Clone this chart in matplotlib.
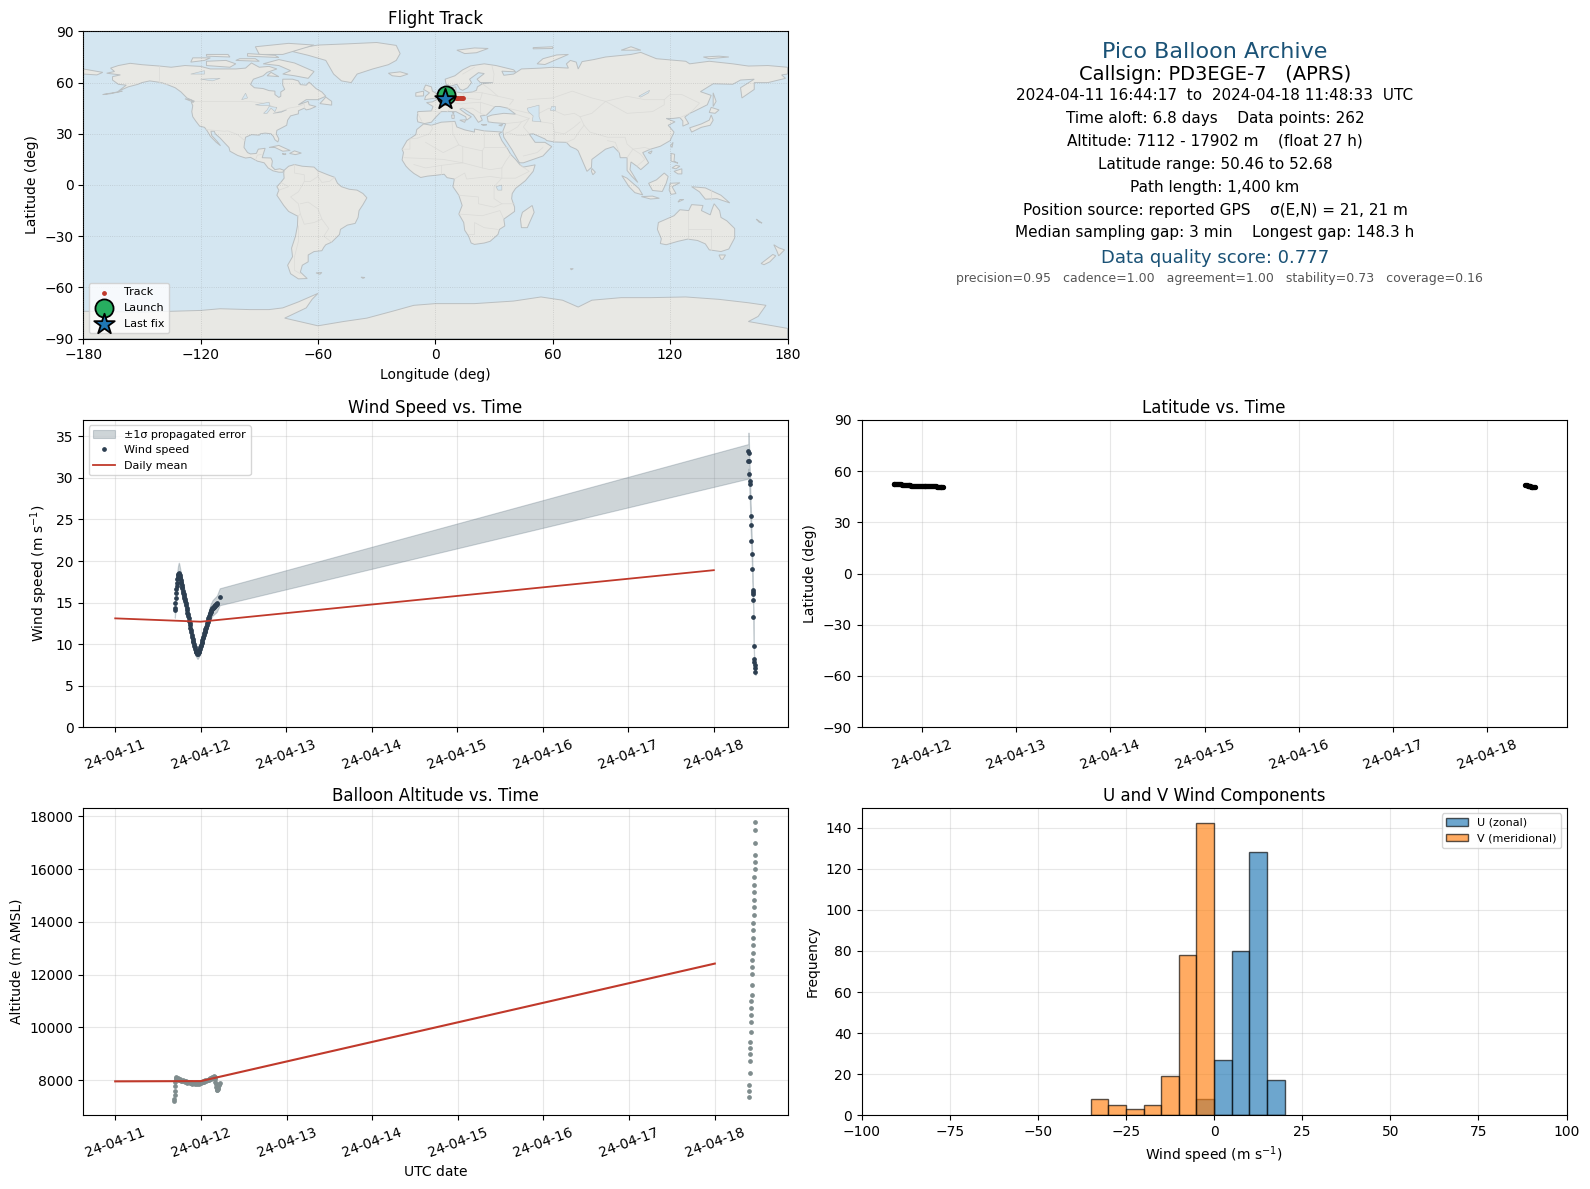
import numpy as np
import matplotlib
matplotlib.use("Agg")
import matplotlib.pyplot as plt
import matplotlib.dates as mdates
from matplotlib.patches import Polygon

W, H = 1590, 1189

# ------------------------------------------------------------------ data
BASE_DAY = mdates.date2num(np.datetime64("2024-04-11T00:00:00"))

wind_days_a = [.697,.700,.704,.708,.712,.716,.720,.724,.728,.732,.736,.740,.744,.748,.752,.756,.760,.764,.768,.772,.776,.780,.785,.790,.795,.800,.805,.810,.815,.820,.825,.830,.835,.840,.845,.850,.855,.860,.865,.870,.875,.880,.885,.890,.895,.900,.905,.910,.915,.920,.925,.930,.935,.940,.945,.950,.955,.960,.965,.970,.975,.980,.985,.990,.995,1.000,1.005,1.010,1.015,1.020,1.025,1.030,1.035,1.040,1.045,1.050,1.055,1.060,1.065,1.070,1.075,1.080,1.085,1.090,1.095,1.100,1.105,1.110,1.115,1.120,1.125,1.130,1.135,1.140,1.145,1.150,1.155,1.160,1.165,1.170,1.175,1.180,1.185,1.190,1.222]
wind_speed_a = [14.1,14.4,15.0,15.6,16.1,16.6,17.0,17.4,17.8,18.1,18.3,18.5,18.6,18.5,18.3,18.1,17.9,17.7,17.5,17.3,17.1,16.9,16.7,16.4,16.2,16.0,15.8,15.6,15.4,15.2,15.0,14.7,14.4,14.1,13.8,13.6,13.4,13.1,12.8,12.5,12.3,12.0,11.7,11.4,11.1,10.9,10.6,10.4,10.2,10.0,9.8,9.6,9.4,9.2,9.1,9.0,8.9,8.8,8.8,8.9,9.0,9.1,9.3,9.4,9.6,9.8,9.9,10.1,10.3,10.5,10.7,10.9,11.1,11.3,11.4,11.6,11.8,11.9,12.1,12.3,12.5,12.7,12.9,13.1,13.2,13.4,13.6,13.7,13.9,14.0,14.1,14.2,14.3,14.4,14.4,14.5,14.5,14.6,14.6,14.7,14.7,14.8,14.8,14.9,15.7]
wind_days_b = [7.405,7.408,7.411,7.403,7.415,7.418,7.420,7.425,7.430,7.435,7.440,7.445,7.450,7.455,7.456,7.457,7.460,7.463,7.467,7.471,7.475,7.479,7.483,7.487]
wind_speed_b = [33.3,33.0,32.1,32.0,30.5,29.6,29.3,27.7,25.4,24.3,22.4,20.9,19.1,16.5,16.3,16.0,15.3,13.3,9.8,8.2,7.8,7.5,7.1,6.7]
WIND_REL_ERROR = 0.065

daily_days = [0.0, 1.0, 7.0]
daily_wind = [13.1, 12.7, 18.9]
daily_alt = [7960, 7970, 12420]

alt_days_a = [.690,.692,.695,.697,.700,.703,.706,.710,.715,.720,.730,.740,.750,.760,.770,.780,.790,.800,.810,.820,.830,.840,.850,.860,.870,.880,.890,.900,.910,.920,.930,.940,.950,.960,.970,.980,.990,1.000,1.010,1.020,1.030,1.040,1.050,1.060,1.070,1.080,1.090,1.100,1.110,1.120,1.130,1.140,1.150,1.155,1.160,1.165,1.170,1.175,1.180,1.185,1.190,1.195,1.200,1.205,1.210,1.215,1.220]
alt_m_a = [7200,7300,7450,7600,7800,7950,8050,8130,8100,8050,8090,8020,8010,8040,7990,7970,8000,7960,7940,7980,7960,7910,7920,7950,7900,7890,7930,7870,7880,7900,7860,7880,7850,7890,7900,7860,7900,7880,7940,7970,7930,7950,8000,7970,8030,8000,8060,8020,8070,8040,8110,8070,8130,8180,8120,8050,7950,7850,7750,7650,7620,7680,7720,7780,7830,7860,7880]
alt_days_b = [7.475,7.473,7.471,7.469,7.466,7.464,7.462,7.460,7.458,7.456,7.454,7.452,7.450,7.448,7.446,7.444,7.442,7.440,7.438,7.436,7.433,7.430,7.428,7.426,7.424,7.422,7.419,7.416,7.414,7.412,7.410,7.406,7.402,7.398,7.394]
alt_m_b = [17790,17460,16990,16550,16277,16012,15710,15407,15142,14839,14574,14272,13969,13704,13401,13136,12834,12569,12304,12039,11622,11244,11017,10752,10487,10222,9843,9465,9238,9011,8740,8260,7810,7580,7350]

lat_days_a = [.697,.705,.715,.725,.735,.745,.755,.765,.775,.785,.795,.805,.815,.825,.835,.845,.855,.865,.875,.885,.895,.905,.915,.925,.935,.945,.955,.965,.975,.985,.995,1.005,1.015,1.025,1.035,1.045,1.055,1.065,1.075,1.085,1.095,1.105,1.115,1.125,1.135,1.145,1.155,1.165,1.175,1.185,1.195,1.205,1.215,1.222]
lat_deg_a = [52.68,52.60,52.55,52.50,52.40,52.35,52.30,52.25,52.20,52.10,52.05,52.00,51.95,51.85,51.80,51.75,51.70,51.60,51.55,51.50,51.45,51.40,51.38,51.35,51.32,51.30,51.28,51.25,51.25,51.22,51.20,51.20,51.18,51.15,51.15,51.12,51.10,51.10,51.08,51.05,51.05,51.02,51.00,50.98,50.95,50.95,50.90,50.88,50.85,50.80,50.75,50.68,50.58,50.50]
lat_days_b = [7.410,7.417,7.425,7.433,7.440,7.447,7.455,7.463,7.470,7.477,7.485,7.493,7.501,7.507]
lat_deg_b = [51.90,51.80,51.60,51.50,51.40,51.30,51.10,51.00,50.90,50.80,50.70,50.60,50.50,50.46]

track_lon = [5.5,6.5,7.5,8.5,9.5,10.5,11.5,12.5,13.5,14.3,13.0,11.0,9.0,7.0,5.5,4.7]
track_lat = [52.68,52.3,52.0,51.6,51.4,51.2,51.1,51.1,51.0,50.9,50.9,50.9,50.8,50.7,50.6,50.46]

hist_edges = [-35,-30,-25,-20,-15,-10,-5,0,5,10,15,20]
hist_u = [0,0,0,0,0,0,8,27,80,128,17]
hist_v = [8,5,3,5,19,78,142,0,0,0,0]

# Coarse coast and border outlines, (lon, lat)
north_america = [(-168,65.5),(-164,66.5),(-166,68.5),(-162,70),(-156,71.3),(-150,70.5),(-141,69.7),(-135,69),(-128,70),(-120,69.5),(-115,68),(-108,68),(-102,68),(-97,68.5),(-94,71.5),(-90,69),(-85,69.5),(-81,68),(-86,66),(-88,64),(-93,62),(-94.5,59),(-92.5,57),(-88,56.5),(-85,55.3),(-82,55),(-82,53),(-80,51.3),(-79,52),(-79,54.5),(-77,56),(-78,58.5),(-78,62),(-73,62),(-70,61),(-69,58.8),(-66,58.5),(-64.5,60.3),(-61,56.5),(-58,54.5),(-56,52),(-60,50),(-66,50),(-70,47),(-65,49),(-64.5,47),(-61,46),(-64,44.5),(-66,44),(-67,45),(-70,43.5),(-70,41.7),(-74,40.5),(-75.5,38),(-76,35),(-78,33.8),(-81,32),(-81.3,30),(-80,27),(-80.5,25.2),(-82,26.5),(-82.8,28.5),(-84,30),(-87,30.4),(-89.5,30),(-90,29.2),(-94,29.5),(-97,28),(-97.5,25),(-97.8,22),(-96,19),(-94.5,18.2),(-91.5,18.5),(-90.5,21),(-87,21.5),(-88,18),(-88.5,16),(-84,15.8),(-83.3,14),(-83.7,11),(-82,9),(-79.5,9.5),(-77.3,8.6),(-78,7.5),(-80,7.5),(-83,8.3),(-85.5,10),(-87.5,13),(-91,14),(-94.5,16.2),(-97,15.8),(-101,17.3),(-105,19.8),(-105.5,22),(-108,25),(-110,27.5),(-112.5,30),(-113,31.5),(-114.7,31.5),(-114.3,29),(-111.5,25.5),(-109.8,23),(-112,25),(-115,28.5),(-116.5,31.5),(-118,33.8),(-120.5,34.5),(-122.5,37.5),(-124,40),(-124.5,43),(-124,46.5),(-124.7,48.4),(-123,49),(-127,51),(-130,54.5),(-133,57),(-137,58.8),(-140,60),(-146,61),(-150,60),(-152,59),(-157,57.5),(-162,55),(-158,58.5),(-162,59),(-165,61.5),(-165,63.5),(-161,64.5)]
greenland = [(-73,78.2),(-68,80.5),(-60,82),(-45,82.7),(-30,83.5),(-20,81.8),(-18,77),(-20,73),(-24,70.5),(-32,68),(-40,65),(-43,60),(-48,61),(-52,65),(-54,69),(-56,73),(-65,76)]
south_america = [(-77.3,8.6),(-75,11),(-72,12),(-68,11),(-62,10.5),(-60,8.3),(-55,6),(-51.5,4.5),(-50,1),(-48,-1),(-44,-2.5),(-40,-3),(-37,-5),(-35,-7.5),(-37,-11.5),(-39,-15),(-39.5,-19),(-41,-22.5),(-45,-23.5),(-48.5,-26),(-49,-29),(-53,-33.5),(-56,-35),(-57,-36.5),(-58,-38.5),(-62,-39),(-65,-41),(-65,-45),(-68,-47),(-69,-51),(-65.5,-54.8),(-70,-55),(-74,-52),(-75.5,-47),(-73,-42),(-73.5,-37),(-71.5,-30),(-70.5,-24),(-70.3,-18.3),(-75,-15.5),(-77.5,-12),(-81,-6),(-80,-3),(-81,-1),(-79,1.5),(-77.3,4),(-77.5,7)]
africa = [(-6,35.8),(-2,35),(3,36.8),(10,37.3),(11,34),(15,32.3),(20,31),(20,32.8),(25,31.7),(32,31.2),(34,31),(32.5,30),(34,26),(37,21),(38.5,18),(41,15),(43.3,11.8),(45,10.5),(51,11.8),(50,8),(46,2.5),(41,-2),(39.3,-5),(39,-8),(40.5,-13),(40.5,-15.5),(35,-20),(35.5,-24),(32.8,-26),(32,-29),(28,-33),(25,-34),(20,-34.8),(18.3,-34),(17,-30),(15,-26.5),(14.5,-22),(12,-17),(13.7,-12),(12,-6),(9,-1),(9.7,3.5),(6,4.3),(4.5,6.3),(1,5.8),(-4,5.2),(-7.5,4.4),(-11,6.8),(-13.3,9),(-15,11),(-17,14.7),(-16.3,19),(-17,21),(-14.5,26),(-10,29.5),(-9.5,32.5)]
eurasia = [(-9,37),(-9.3,39),(-9,43),(-2,43.4),(-1.2,46),(-4.5,48.3),(-1.5,48.7),(1.5,50.5),(4,52),(6,53.4),(8.5,54),(8.2,57),(10.5,57.5),(10.5,54.5),(14,54),(19,54.5),(21,55.5),(21.5,57.5),(24,59.3),(29.5,60),(23,60),(21.3,62),(25,65.3),(22,65.8),(17.5,62),(18.5,60),(16.5,57),(14,55.5),(12.5,56.2),(11,59),(8,58),(5.5,59),(5,62),(10,64),(14,67.5),(18,69.8),(25,71),(31,70),(40,67.5),(41,66.3),(34,66.7),(35,64.3),(40,65),(44,68),(54,68.5),(60,69),(68,68.5),(67,71),(69,73),(72,72),(73,68),(75,72.3),(81,73.5),(87,75),(100,76.5),(105,77.7),(113,74),(128,72.5),(130,71),(140,72.5),(152,71),(160,69.7),(170,70),(180,69),(180,65),(177,64.5),(179,62.5),(170,60),(163,60),(163,56),(156.7,51),(156,57),(163,62),(156,61.5),(152,59),(142,59.3),(135.5,54.7),(141,52.5),(139,47),(132,43),(130,42),(127.5,39.8),(129.5,36),(126.5,34.5),(126.5,37.5),(125,39.5),(121.5,39),(118,39),(122.5,37),(119,35),(122,31),(120,26),(115,22.7),(110,21),(106,19),(109,13),(105,9),(103,11),(100,13.5),(99.5,9),(103.5,1.5),(100.5,5),(98,8.5),(98,16),(94.5,16),(94,19),(91,22.5),(87,21),(80,15),(79.8,10.3),(77.5,8),(73,20),(72,21),(69,22.5),(67,25),(61,25.2),(57,26),(56,27),(50,30),(48,29.8),(51,25),(56,25),(59.5,22.5),(55,17),(45,13),(43,13),(39,21),(35,28),(34.5,31.5),(36,36),(30,36.5),(27,37),(26.5,40),(29,41),(35,42),(41,41.5),(37,45),(35,45.5),(33,46),(30.5,46),(28,43),(26,40.8),(23,40.5),(24,38),(22,36.7),(19.5,41),(14,45),(12.5,44.5),(16,41.5),(18.4,40),(16,38),(15.5,40),(10.5,43),(6,43),(3,43),(0,39.5),(-2,36.8),(-5.5,36)]
australia = [(114,-22),(113.5,-26),(115.5,-31.5),(115,-34.3),(118,-35),(124,-33),(129,-31.7),(134,-32.5),(138,-34.5),(140,-38),(146,-39),(150,-37.5),(153,-31),(153,-25.5),(149,-21),(146,-19),(145.3,-15),(142.5,-11),(141.5,-14),(140.5,-17.5),(136,-15),(136.8,-12),(131,-11.5),(129.5,-15),(125,-14.5),(122,-18),(117,-20.5)]
antarctica = [(-180,-90),(-180,-74),(-150,-74.5),(-120,-73.5),(-110,-72.5),(-95,-73),(-85,-73),(-78,-72),(-70,-68.5),(-60,-63.5),(-63,-67),(-66,-72),(-77,-78),(-60,-82.5),(-47,-80),(-35,-78),(-22,-74),(-11,-70.5),(0,-69.5),(20,-69.5),(40,-68),(54,-65.6),(65,-67.5),(73,-71.5),(80,-67.5),(95,-66),(110,-66),(128,-65.6),(145,-67),(160,-69),(169,-70.5),(165,-77),(160,-80),(180,-84),(180,-90)]
islands = [
    [(-5.5,50),(1.5,51.2),(1.5,53),(-1.5,55),(-2,57.5),(-5,58.6),(-6,56),(-3,54),(-5,52)],
    [(-10,52),(-6,52.2),(-6,55),(-10,54)],
    [(-24,65.5),(-18,66.3),(-14,65),(-18,63.5),(-22,64)],
    [(11,79),(20,80.3),(27,80),(21,77.5),(15,77)],
    [(52,71),(56,70.6),(68,76.5),(62,76.2),(55,74)],
    [(95,79),(105,79),(100,81)],
    [(137,75),(145,75.5),(150,75),(140,74)],
    [(50,80.5),(60,81),(60,80),(50,79.8)],
    [(141,45.5),(145,44),(143,42),(140,42.5)],
    [(130,33.5),(136,35.8),(140,38),(141,41),(142,38),(140.5,35),(136,33.8),(131,31)],
    [(142,54),(143.5,49),(142,46),(142,50)],
    [(120.2,23),(121.5,25),(121,22)],
    [(108.8,19),(110.8,20),(110,18.3)],
    [(120.5,18.5),(122.3,18),(122,14),(124,12.8),(120.5,14)],
    [(122,8),(126,9.5),(126,6.5),(124,6.5)],
    [(121,10),(123,11.5),(125,11),(123,9.5)],
    [(95.3,5.5),(98,4),(104,-2),(106,-5.8),(102,-4.5),(99,-1)],
    [(105.3,-6.8),(111,-6.5),(114.5,-7.8),(110,-8.2)],
    [(109,1),(113,3),(117,7),(119,5),(118,1),(116,-3.8),(111,-3.2)],
    [(119.5,-3),(120,1),(125,1.3),(121,-1),(123,-5),(120.5,-5.5)],
    [(131,-1),(138,-1.7),(146,-6),(150.5,-10.5),(144,-8),(138,-8.3),(135,-4)],
    [(124,-10),(127,-8.5),(125,-8.5)],
    [(145,-41),(148.3,-41),(147,-43.5),(146,-43.5)],
    [(173,-35),(175.5,-36.8),(178.5,-38),(175.5,-41.5),(174.5,-38.5)],
    [(172.5,-40.7),(174,-41.5),(171,-45),(168,-46.7),(166.5,-46)],
    [(49.5,-12),(50.5,-16),(47,-25),(44,-25),(43.5,-20),(44.5,-16)],
    [(80,9.7),(81.8,7.5),(80.5,6),(79.8,8)],
    [(-85,22),(-80,23.2),(-74.2,20.2),(-78,19.8),(-82,22)],
    [(-74.5,18.5),(-72,20),(-68.5,18.7),(-71.5,17.8)],
    [(-78.3,18.3),(-76.3,18.2),(-77,17.8)],
    [(12.5,38),(15.5,38.2),(15,36.7)],
    [(8.3,41),(9.7,41),(9.6,39),(8.5,39)],
    [(8.7,42.5),(9.5,43),(9.3,41.5)],
    [(23.5,35.5),(26.3,35.3),(24.5,34.9)],
    [(32.4,35),(34.5,35.6),(33.8,34.6)],
    [(164,-20),(167,-22.3),(165.5,-21.8)],
    [(-61,-51.5),(-58,-51.3),(-59,-52.3)],
    [(-38,-54),(-36,-54.2),(-37,-54.7)],
    [(69,-49),(70.5,-49),(69.5,-49.7)],
    [(-80,73.5),(-72,71.5),(-67,69),(-62,66.5),(-65,62.5),(-72,64),(-78,65),(-74,67),(-80,70),(-88,71)],
    [(-117,70),(-105,69),(-102,71),(-107,73),(-117,72.5)],
    [(-90,76.5),(-78,76.5),(-62,82),(-75,83),(-92,81)],
    [(-125,72),(-118,73),(-115,74.5),(-124,74.5)],
    [(-96,75.5),(-80,74.7),(-82,76),(-96,77)],
    [(-117,75.5),(-105,75),(-106,76.5),(-117,76.5)],
    [(-102,73),(-90,72.5),(-92,74),(-100,74)],
    [(-86,64),(-80,63.5),(-84,66)],
    [(-59,47.7),(-53,46.8),(-53,49),(-56,51.5)],
    [(-128,50.5),(-123.5,48.5),(-125,50)],
    [(-180,68),(-170,66),(-173,64.5),(-180,65)],
    [(-170,53),(-160,55),(-166,53.5)],
]
inland_water = [
    [(47,45),(53,46.8),(53,40),(54,37),(49.5,37.5),(50,40.5),(47.5,43)],
    [(-92,47),(-85,48.5),(-84.5,46.5),(-88,46.5)],
    [(-87.8,42),(-86,44),(-85,46),(-81,45.5),(-82,43),(-84,45),(-86,42)],
    [(-83,42),(-79,43),(-76,44),(-79,42.5)],
    [(-99,50),(-97,53.8),(-96,51)],
    [(-120,62),(-110,62.5),(-114,61)],
    [(-125,65),(-118,67),(-118,65)],
    [(31,-1),(34,0),(34,-3),(32,-3)],
    [(59,46.5),(61,46.5),(61,44),(58.5,44)],
    [(104,52),(109.5,55.5),(109,54),(105,51.5)],
]
borders = [
    [(-123,49),(-95,49),(-88,48),(-83,46),(-82,42.5),(-79,43),(-75,45),(-70,46),(-67,47.3),(-67,45)],
    [(-141,69.7),(-141,60),(-137,58.8)],
    [(-117,32.5),(-108,31.5),(-106,31.7),(-101,29.5),(-97.5,26)],
    [(-92,14.5),(-91,17.5),(-89,17.9)],
    [(-72,12),(-72,7),(-67,6),(-67,2),(-70,-4),(-74,-7),(-70,-11),(-69,-17),(-70.3,-18.3)],
    [(-60,8.3),(-60,5),(-64,2),(-67,2)],
    [(-51.5,4.5),(-54,2.2),(-58,1.5),(-60,5)],
    [(-69,-11),(-65,-10),(-60,-14),(-58,-20),(-54.5,-25.5),(-57,-30),(-53,-33.5)],
    [(-69,-17),(-67,-23),(-62,-22),(-58,-20)],
    [(-70,-24),(-70,-33),(-72,-42),(-72,-50),(-69,-52)],
    [(-80,-3),(-75,-1),(-79,1.5)],
    [(-9,27.5),(-3,30),(-1.5,33),(-2,35)],
    [(8.5,37),(9,30),(12,23.5),(14,22.5),(24,20),(25,22),(25,31.7)],
    [(25,22),(37,22)],
    [(24,20),(24,10),(28,9),(34,10),(36,14),(38.5,18)],
    [(-17,21),(-13,21),(-13,27),(-9,27.5)],
    [(-5,25),(4,19),(12,23.5)],
    [(-16,16),(-5,15.5),(4,15),(14,13),(14,22.5)],
    [(14,13),(24,10),(24,20)],
    [(-11,12),(-5,10),(3,11.5),(14,13)],
    [(3,6.3),(3,11.5)],
    [(9.7,3.5),(15,7),(16,3.5),(28,5),(34,4),(41,4),(48,8),(43.3,11.8)],
    [(34,10),(34,4),(30,-1),(30,-8),(34,-11),(40.5,-11)],
    [(12,-6),(22,-7),(22,-11),(30,-13),(34,-11)],
    [(12,-17),(24,-18),(33,-15),(35,-20)],
    [(17,-29),(20,-29),(20,-22),(25,-25),(32,-26)],
    [(-2,43.4),(3,42.5)],[(-9,42),(-7,37.5)],
    [(2,51),(6,49.5),(8,48.5),(7,44),(6,43)],
    [(6,53.4),(6,50.5),(8,48.5),(13,47.5),(17,48),(23,48.5),(30,46)],
    [(14,54),(15,51),(23,50),(24,54),(19,54.5)],
    [(23,48.5),(23,42),(26,40.8)],[(14,45),(19,45),(23,42)],
    [(24,54),(32,52),(40,50),(38,47)],[(24,59.3),(28,56),(32,52)],
    [(29.5,60),(30,65),(29,69.5)],[(14,65),(20,69)],
    [(37,45),(48,42)],[(41,41.5),(48,39),(44,37),(36,36)],
    [(48,39),(45,34),(48,30)],[(44,37),(42,34),(39,32),(35,29.5)],
    [(48,30),(46,29),(42,29),(36,31)],[(45,17),(52,19),(55,22)],
    [(61,25.2),(61,31),(60,36),(54,37)],[(61,31),(66,30),(71,34),(74,37)],
    [(53,42),(58,45),(66,41),(71,42),(74,40)],
    [(47,50),(60,51),(70,55),(80,51),(87,49),(98,52),(107,50),(117,50),(120,53),(126,53),(135,48),(131,43)],
    [(87,49),(80,42),(74,40),(76,35),(79,31),(88,28),(97,28),(98,24),(101,21),(107,22),(110,21)],
    [(67,25),(71,27),(74,32),(76,35)],[(88,26),(92,25),(94,19)],
    [(98,16),(101,21),(105,18),(107,15),(103,11)],[(87,49),(98,42),(111,43),(117,47),(117,50)],
    [(125,39.5),(130,42)],
    [(141,-2.5),(141,-9)],[(129,-15),(129,-31.7)],[(141,-26),(141,-38)],[(129,-26),(141,-26)],
]

# ------------------------------------------------------------------ layout
RED = "#c0392b"
NAVY = "#2c3e50"
GREY = "#7f8c8d"
BAND = "#5f7480"
TITLE_BLUE = "#1a5276"
TITLE_PAD = 5


def px_axes(fig, left, top, right, bottom):
    return fig.add_axes([left / W, 1 - bottom / H, (right - left) / W, (bottom - top) / H])


def to_dates(days):
    return BASE_DAY + np.asarray(days, dtype=float)


fig = plt.figure(figsize=(W / 100, H / 100), dpi=100)
ax_map = px_axes(fig, 83.2, 31.4, 787.5, 338.6)
ax_wind = px_axes(fig, 83.2, 419.8, 787.5, 727.2)
ax_lat = px_axes(fig, 861.6, 419.8, 1566.6, 727.2)
ax_alt = px_axes(fig, 83.2, 807.8, 787.5, 1115.4)
ax_hist = px_axes(fig, 861.6, 807.8, 1566.6, 1115.4)

# ---- map
ax_map.set_facecolor("#d4e6f1")
for ring in [north_america, greenland, south_america, africa, eurasia, australia, antarctica] + islands:
    ax_map.add_patch(Polygon(ring, closed=True, fc="#e8e8e4", ec="#babfc1", lw=0.7, zorder=1))
for ring in inland_water:
    ax_map.add_patch(Polygon(ring, closed=True, fc="#d4e6f1", ec="#babfc1", lw=0.4, zorder=1.2))
for line in borders:
    xs, ys = zip(*line)
    ax_map.plot(xs, ys, color="#dbdbd8", lw=0.5, zorder=1.1)
ax_map.scatter(track_lon, track_lat, s=6, color=RED, label="Track", zorder=3)
ax_map.scatter(track_lon[0], track_lat[0], s=170, color="#27ae60", ec="black", lw=1.3, label="Launch", zorder=4)
ax_map.scatter(track_lon[-1], track_lat[-1], s=240, marker="*", color="#1f77b4", ec="black", lw=1.3, label="Last fix", zorder=5)
ax_map.set_xlim(-180, 180)
ax_map.set_ylim(-90, 90)
ax_map.set_xticks(np.arange(-180, 181, 60))
ax_map.set_yticks(np.arange(-90, 91, 30))
ax_map.grid(True, color="grey", alpha=0.3, lw=0.6, ls=":", zorder=2)
ax_map.set_axisbelow(False)
ax_map.set_title("Flight Track", fontsize=12, pad=TITLE_PAD)
ax_map.set_xlabel("Longitude (deg)")
ax_map.set_ylabel("Latitude (deg)")
ax_map.legend(loc="lower left", fontsize=8, framealpha=0.8)

# ---- wind speed
w_days = np.r_[wind_days_a, wind_days_b]
w_speed = np.r_[wind_speed_a, wind_speed_b]
band = np.argsort(w_days)
ax_wind.fill_between(to_dates(w_days[band]), (w_speed * (1 - WIND_REL_ERROR))[band], (w_speed * (1 + WIND_REL_ERROR))[band],
                     color=BAND, alpha=0.3, lw=0.8, label="±1σ propagated error")
ax_wind.plot(to_dates(w_days), w_speed, ls="none", marker="o", ms=2.4, color=NAVY, label="Wind speed")
ax_wind.plot(to_dates(daily_days), daily_wind, color=RED, lw=1.3, label="Daily mean")
ax_wind.set_ylim(0, 37.0)
ax_wind.set_title("Wind Speed vs. Time", fontsize=12, pad=TITLE_PAD)
ax_wind.set_ylabel("Wind speed (m s$^{-1}$)")
ax_wind.legend(loc="upper left", fontsize=8)

# ---- latitude
ax_lat.plot(to_dates(lat_days_a), lat_deg_a, ls="none", marker="o", ms=2.8, color="black")
ax_lat.plot(to_dates(lat_days_b), lat_deg_b, ls="none", marker="o", ms=2.8, color="black")
ax_lat.set_ylim(-90, 90)
ax_lat.set_yticks(np.arange(-90, 91, 30))
ax_lat.set_title("Latitude vs. Time", fontsize=12, pad=TITLE_PAD)
ax_lat.set_ylabel("Latitude (deg)")

# ---- altitude
ax_alt.plot(to_dates(np.r_[alt_days_a, alt_days_b]), np.r_[alt_m_a, alt_m_b], ls="none", marker="o", ms=2.4, color=GREY)
ax_alt.plot(to_dates(daily_days), daily_alt, color=RED, lw=1.5)
ax_alt.set_title("Balloon Altitude vs. Time", fontsize=12, pad=TITLE_PAD)
ax_alt.set_ylabel("Altitude (m AMSL)")
ax_alt.set_xlabel("UTC date")

for ax in (ax_wind, ax_lat, ax_alt):
    ax.xaxis.set_major_locator(mdates.DayLocator())
    ax.xaxis.set_major_formatter(mdates.DateFormatter("%y-%m-%d"))
    ax.tick_params(axis="x", labelrotation=20)
    ax.grid(True, alpha=0.3)
    ax.set_axisbelow(True)

# ---- histogram
centres = (np.array(hist_edges[:-1]) + np.array(hist_edges[1:])) / 2
ax_hist.hist(centres, bins=hist_edges, weights=hist_u, color="#1f77b4", alpha=0.65, ec="black", lw=1, label="U (zonal)")
ax_hist.hist(centres, bins=hist_edges, weights=hist_v, color="#ff7f0e", alpha=0.65, ec="black", lw=1, label="V (meridional)")
ax_hist.set_xlim(-100, 100)
ax_hist.set_ylim(0, 149.6)
ax_hist.set_title("U and V Wind Components", fontsize=12, pad=TITLE_PAD)
ax_hist.set_xlabel("Wind speed (m s$^{-1}$)")
ax_hist.set_ylabel("Frequency")
ax_hist.grid(True, alpha=0.3)
ax_hist.set_axisbelow(True)
ax_hist.legend(loc="upper right", fontsize=8)

# ---- info panel
info_lines = [
    ("Pico Balloon Archive", 52, 16, TITLE_BLUE, 1215),
    ("Callsign: PD3EGE-7   (APRS)", 74, 14, "black", 1215),
    ("2024-04-11 16:44:17  to  2024-04-18 11:48:33  UTC", 95, 11, "black", 1215),
    ("Time aloft: 6.8 days    Data points: 262", 118, 11, "black", 1215),
    ("Altitude: 7112 - 17902 m    (float 27 h)", 141, 11, "black", 1215),
    ("Latitude range: 50.46 to 52.68", 164, 11, "black", 1215),
    ("Path length: 1,400 km", 187.5, 11, "black", 1215),
    ("Position source: reported GPS    σ(E,N) = 21, 21 m", 210, 11, "black", 1215),
    ("Median sampling gap: 3 min    Longest gap: 148.3 h", 233, 11, "black", 1215),
    ("Data quality score: 0.777", 258, 13, TITLE_BLUE, 1215),
    ("precision=0.95   cadence=1.00   agreement=1.00   stability=0.73   coverage=0.16", 278.5, 9, "#555555", 1219),
]
for text, y_px, size, colour, x_px in info_lines:
    fig.text(x_px / W, 1 - y_px / H, text, ha="center", va="center", fontsize=size, color=colour)

fig.savefig("out.png", dpi=100)
